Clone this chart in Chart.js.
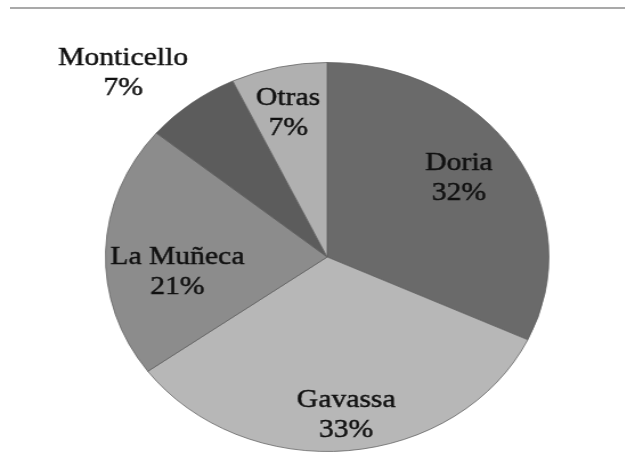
<!DOCTYPE html>
<html>
<head>
<meta charset="utf-8">
<script src="https://cdn.jsdelivr.net/npm/chart.js@4.4.0/dist/chart.umd.min.js"></script>
<style>
  html, body { margin: 0; padding: 0; background: #fff; overflow: hidden; }
  #wrap { position: relative; width: 625px; height: 469px; }
  #topline { position: absolute; left: 10px; right: 0; top: 7px; height: 2px; background: #a9a9a9; }
  #box { position: absolute; left: 0; top: 0; width: 548px; height: 469px;
         transform: scaleX(1.14); transform-origin: 0 0; }
</style>
</head>
<body>
<div id="wrap">
  <div id="topline"></div>
  <div id="box"><canvas id="pie" width="548" height="469"></canvas></div>
</div>
<script>
// datos
const categories = ['Doria', 'Gavassa', 'La Muñeca', 'Monticello', 'Otras'];
const shares = [32, 33, 21, 7, 7];
const sliceColors = ['#6a6a6a', '#b7b7b7', '#8c8c8c', '#5c5c5c', '#b0b0b0'];

// donde va cada etiqueta: fracción del radio y giro (grados) respecto al centro del sector
const labelDist = [0.72, 0.82, 0.68, 1.32, 0.76];
const labelTurn = [-2, -0.6, -8.3, -6.4, -0.8];

const FONT = '26px "Liberation Serif", "Times New Roman", serif';

const sliceLabels = {
  id: 'sliceLabels',
  afterDatasetsDraw(chart) {
    const ctx = chart.ctx;
    const meta = chart.getDatasetMeta(0);
    ctx.save();
    ctx.font = FONT;
    ctx.fillStyle = '#111';
    ctx.strokeStyle = '#111';
    ctx.lineWidth = 0.45;
    ctx.textAlign = 'center';
    ctx.textBaseline = 'middle';
    meta.data.forEach((arc, i) => {
      const mid = (arc.startAngle + arc.endAngle) / 2 + labelTurn[i] * Math.PI / 180;
      const r = arc.outerRadius * labelDist[i];
      const x = arc.x + Math.cos(mid) * r;
      const y = arc.y + Math.sin(mid) * r;
      [[categories[i], y - 15], [shares[i] + '%', y + 15]].forEach(([t, ty]) => {
        ctx.fillText(t, x, ty);
        ctx.strokeText(t, x, ty);
      });
    });
    ctx.restore();
  }
};

function draw() {
  new Chart(document.getElementById('pie').getContext('2d'), {
    type: 'pie',
    data: {
      labels: categories,
      datasets: [{
        data: shares,
        backgroundColor: sliceColors,
        borderColor: 'rgba(95,95,95,0.75)',
        borderWidth: 1
      }]
    },
    options: {
      responsive: false,
      animation: false,
      layout: { padding: { left: 92, right: 66, top: 62, bottom: 17 } },
      plugins: { legend: { display: false }, tooltip: { enabled: false } }
    },
    plugins: [sliceLabels]
  });
}

document.fonts.load(FONT).then(draw, draw);
</script>
</body>
</html>
